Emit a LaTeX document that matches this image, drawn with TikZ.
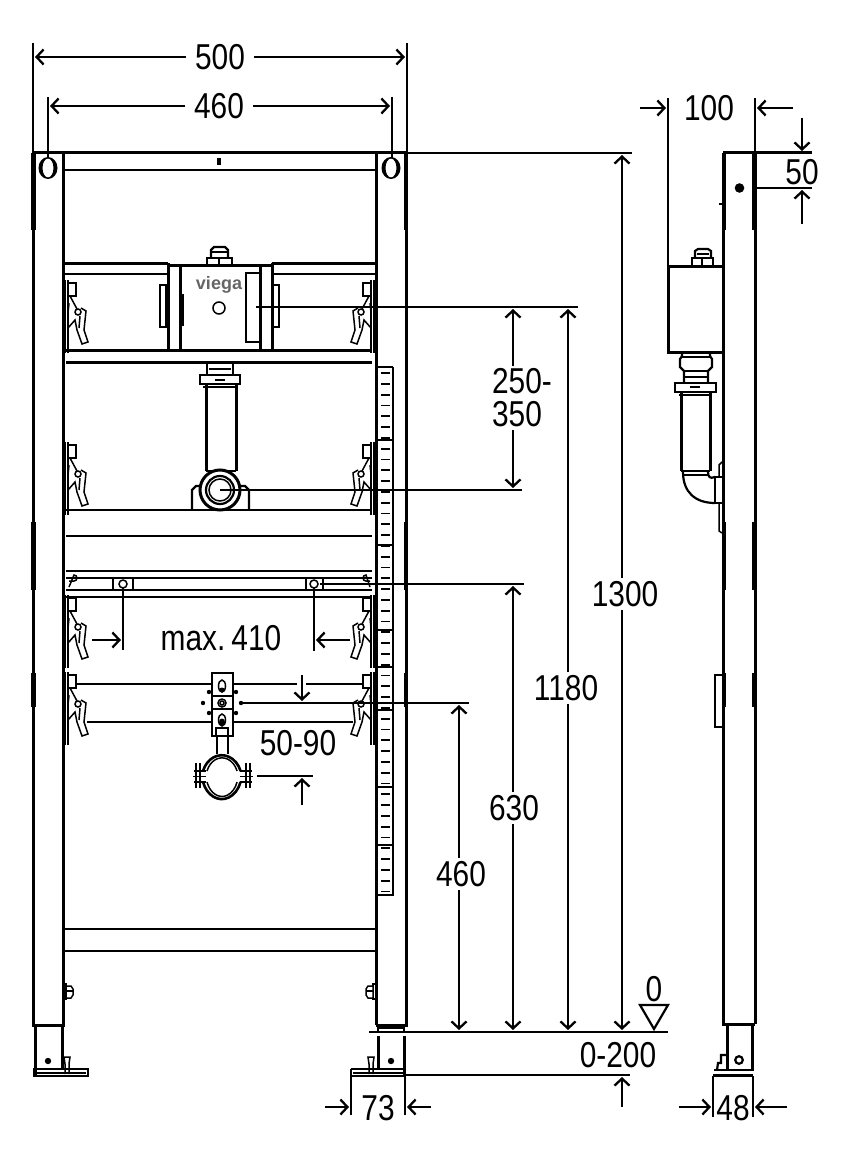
\documentclass[tikz,border=0pt]{standalone}
\usepackage{fontspec}
\usetikzlibrary{arrows.meta}
\setmainfont{Liberation Sans}
\newfontfamily\dimf[FakeStretch=0.83]{Liberation Sans}
\tikzset{
  heavy/.style={line width=3pt},
  med/.style={line width=2.2pt},
  thin2/.style={line width=1.5pt},
  dimline/.style={line width=2pt},
  arr/.style={dimline,-{Straight Barb[length=7pt,width=15pt,line width=2.3pt]}},
  lab/.style={font=\dimf\fontsize{36}{36}\selectfont,inner sep=3pt},
  labw/.style={lab,inner xsep=9pt},
  logo/.style={font=\bfseries\fontsize{18}{18}\selectfont,text=gray!80!black,inner sep=0pt}
}
\newcommand{\clampshape}{%
  \draw[med] (65,-3) -- (65,70) (68,-3) -- (68,70);
  \draw[med,fill=white] (68,0) rectangle (76,13);
  \draw[thin2] (70,13) -- (77,26);
  \draw[thin2] (69,20) -- (68,30);
  \draw[thin2] (81,25) -- (86,28) -- (84,47) -- (88,59) -- (82,61) -- (77,47) -- (75,37) -- (68,45);
  \draw[thin2] (80,33) -- (79,45);
  \draw[thin2,fill=white] (78,29) circle (3);
}
\begin{document}
\begin{tikzpicture}[x=1pt,y=-1pt]
\useasboundingbox (0,0) rectangle (849,1166);
% ---------- posts, front view
\draw[heavy] (33,153) -- (33,1025) -- (63,1025) -- (63,153);
\draw[heavy] (376,1025) -- (406,1025) -- (406,153);
\draw[heavy] (376,153) -- (376,1025);
\foreach \a/\b in {153/230,522/590,673/707}{
  \draw[line width=4.2pt] (33.5,\a) -- (33.5,\b) (406,\a) -- (406,\b);
}
\draw[heavy] (33,153) -- (406,153);
\draw[med] (63,170) -- (376,170);
\draw[line width=3.5pt] (219,158) -- (219,165);
\fill[even odd rule] (48,168) ellipse (9.5 and 11) (48,168) ellipse (5.5 and 9.5);
\fill[even odd rule] (391,168) ellipse (9.5 and 11) (391,168) ellipse (5.5 and 9.5);
% bottom beam
\draw[med] (63,929) -- (376,929) (63,951) -- (376,951);
% upper cross bar
\draw[heavy] (63,263) -- (168,263) (272,263) -- (376,263);
\draw[med] (63,274) -- (168,274) (272,274) -- (376,274);
\draw[heavy] (66,350) -- (372,350);
\draw[heavy] (66,362) -- (372,362);
\draw[heavy] (168,263) -- (168,350) (272,263) -- (272,350);
\draw[heavy] (180,265) -- (180,350) (260,265) -- (260,350);
\draw[heavy] (168,265) -- (272,265);
\draw[med] (246,273) rectangle (260,342);
\draw[med] (160,285) rectangle (166,327);
\draw[med] (273,285) rectangle (279,327);
\draw[thin2] (180,295) rectangle (183,325);
\node[logo] (viega) at (219,285) {viega};
\node[draw,circle,line width=1.5pt,minimum size=12pt,inner sep=0pt] (hole) at (219,308) {};
% valve on top
\draw[med] (207,265) -- (207,258) -- (232,258) -- (232,265);
\draw[med] (211,258) -- (211,250) -- (214,247) -- (225,247) -- (228,250) -- (228,258);
\draw[med] (212,252) -- (227,252);
\draw[med] (219,258) -- (219,265);
% drain pipe
\draw[med] (207,362) -- (207,375) (233,362) -- (233,375);
\draw[med] (209,369) -- (231,369);
\draw[med] (200,375) rectangle (240,384);
\draw[med] (215,380) -- (225,380);
\draw[med] (203,387) -- (237,387);
\draw[heavy] (206,384) -- (206,471) (236,384) -- (236,471);
\draw[med] (206,471) -- (236,471);
\draw[med] (192,510) -- (192,490) -- (196,486) -- (203,486);
\draw[med] (249,510) -- (249,490) -- (245,486) -- (237,486);
\draw[heavy,fill=white] (220,490) circle (20);
\draw[med] (220,490) circle (14);
\draw[thin2] (220,490) circle (11);
% second bar and third bar
\draw[med] (66,510) -- (372,510) (66,536) -- (372,536);
\draw[med] (66,571) -- (372,571) (66,578) -- (372,578) (66,590) -- (372,590) (66,597) -- (372,597);
\draw[med] (113,578) rectangle (133,590);
\draw[med] (306,578) rectangle (323,590);
\draw[thin2] (69,581) -- (74,581) arc (90:-90:3) -- (69,587);
\draw[thin2] (370,581) -- (366,581) arc (90:270:3) -- (370,587);
% ruler
\draw[med] (393,367) -- (393,895) -- (378,895);
\draw[med] (378,367) -- (393,367);
\foreach \i in {0,...,48}{
  \pgfmathsetmacro\yy{373+\i*10.8}
  \draw[line width=1.8pt] (381,\yy) -- (390,\yy);
}
\foreach \yy in {440,545,630,667,710,787,845}{ \draw[thin2] (378,\yy) -- (393,\yy); }
% clamps
\foreach \yy in {283,445,598,675}{
  \begin{scope}[shift={(0,\yy)}] \clampshape \end{scope}
  \begin{scope}[shift={(439,\yy)},xscale=-1] \clampshape \end{scope}
}
% lower mount
\draw[med] (77,684) -- (212,684) (233,684) -- (297,684) (306,684) -- (363,684);
\draw[med] (87,722) -- (212,722) (233,722) -- (353,722);
\draw[med,fill=white] (212,673) rectangle (233,736);
\draw[thin2] (222,686) ellipse (3.5 and 6);
\fill (222,690) ellipse (3 and 2.5);
\draw[thin2] (222,720) ellipse (3.5 and 6);
\fill (222,722) ellipse (3 and 3.5);
\draw[med] (212,696) rectangle (233,709);
\draw[thin2] (222,703) circle (4);
\draw[thin2] (222,703) circle (2);
\foreach \p in {(203,703),(241,703),(209,692),(236,692),(209,713),(236,713)}{ \fill \p circle (2.2); }
\draw[thin2] (216,736) -- (216,728) -- (228,728) -- (228,736);
\draw[med] (217,736) -- (217,754) (228,736) -- (228,754);
% pipe clip
\draw[line width=2.6pt] (203,771) arc (200:340:20 and 24);
\draw[line width=1.5pt] (207,771) arc (200:340:16 and 20);
\draw[line width=2.6pt] (203,782) arc (160:20:20 and 26);
\draw[line width=1.5pt] (207,782) arc (160:20:16 and 22);
\draw[thin2] (194,771) -- (206,771) (193,776.5) -- (206,776.5) (194,782) -- (206,782);
\draw[thin2] (240,771) -- (252,771) (240,776.5) -- (253,776.5) (240,782) -- (252,782);
\draw[thin2] (196,763) -- (196,788) (200,763) -- (200,788) (246,763) -- (246,788) (250,763) -- (250,788);
% feet, front view left
\draw[heavy] (35,1025) -- (35,1075);
\draw[heavy] (62,1025) -- (62,1069);
\draw[med] (34.5,1069) rectangle (88,1076);
\draw[thin2] (37,1073) -- (86,1073);
\fill (48,1061) circle (3.2);
\draw[thin2] (65,1074) -- (65,1064) -- (64,1057) -- (70,1057) -- (69,1064) -- (69,1074);
\draw[thin2] (63,984) rectangle (66,999);
\draw[thin2,fill=white] (66,986) -- (71,986) -- (73,989) -- (73,995) -- (71,998) -- (66,998) -- cycle;
\draw[thin2] (66,991) -- (73,991);
% feet, front view right
\draw[med] (378,1025) -- (378,1032) (404,1025) -- (404,1032);
\draw[med] (378,1028) -- (404,1028);
\draw[heavy] (378,1036) -- (378,1069);
\draw[heavy] (404,1036) -- (404,1076);
\draw[med] (351,1069) -- (405,1069) (351,1076) -- (405,1076) (351,1069) -- (351,1076);
\draw[thin2] (353,1073) -- (403,1073);
\fill (391,1061) circle (3.2);
\draw[thin2] (369,1074) -- (369,1064) -- (368,1057) -- (374,1057) -- (373,1064) -- (373,1074);
\draw[thin2] (373,984) rectangle (376,999);
\draw[thin2,fill=white] (373,986) -- (368,986) -- (366,989) -- (366,995) -- (368,998) -- (373,998) -- cycle;
\draw[thin2] (366,991) -- (373,991);
% ---------- side view
\draw[heavy] (723,153) -- (723,1024) -- (755,1024);
\draw[heavy] (755,153) -- (755,1024);
\draw[heavy] (723,153) -- (812,153);
\foreach \a/\b in {153/230,522/590,673/707}{
  \draw[line width=4.2pt] (724,\a) -- (724,\b) (754.5,\a) -- (754.5,\b);
}
\draw[med] (719,204) -- (723,204);
\fill (739.5,188) circle (4.8);
\draw[heavy] (668,266) rectangle (723,352);
\draw[med] (692,266) -- (692,258) -- (713,258) -- (713,266);
\draw[med] (695,258) -- (695,251) -- (698,249) -- (708,249) -- (711,251) -- (711,258);
\draw[med] (697,254) -- (709,254) (702,258) -- (702,266);
\draw[med] (682,352) -- (682,356) -- (680,359) -- (680,367) -- (684,371) -- (684,383);
\draw[med] (710,352) -- (710,356) -- (712,359) -- (712,367) -- (708,371) -- (708,383);
\draw[med] (682,357) -- (710,357) (684,371) -- (708,371) (684,377) -- (708,377);
\draw[med] (675,383) rectangle (716,392);
\draw[med] (690,387) -- (700,387);
\draw[med] (679,395) -- (712,395);
\draw[heavy] (681,392) -- (681,471) (710,392) -- (710,471);
\draw[med] (681,471) -- (710,471);
\draw[med] (682,475) -- (708,475);
\draw[med] (683,472) .. controls (683,492) and (695,503) .. (715,503);
\draw[med] (708,472) .. controls (708,477) and (710,479) .. (715,477);
\draw[med] (715,477) rectangle (723,503);
\draw[thin2] (719,477) -- (719,465) -- (722,462);
\draw[thin2] (719,503) -- (719,531) -- (722,533);
\draw[med] (715,675) rectangle (723,727);
% side foot
\draw[heavy] (727,1024) -- (727,1071) (752,1024) -- (752,1071);
\draw[med] (714,1070) -- (753,1070);
\draw[heavy] (713,1075) -- (753,1075);
\draw[med] (717,1070) -- (718,1063) -- (721,1063) -- (721,1055) -- (727,1055);
\draw[thin2,line width=2.2pt] (739,1060) circle (3.8);
% ---------- dimensions: extension lines
\coordinate (e500l) at (33,43); \coordinate (e500lb) at (33,153);
\coordinate (e500r) at (407,43); \coordinate (e500rb) at (407,153);
\coordinate (e460l) at (48,97); \coordinate (e460lb) at (48,158);
\coordinate (e460r) at (392,97); \coordinate (e460rb) at (392,158);
\draw[dimline] (e500l) -- (e500lb) (e500r) -- (e500rb) (e460l) -- (e460lb) (e460r) -- (e460rb);
\draw[dimline] (406,153) -- (632,153);
\draw[dimline] (256,307) -- (578,307);
\draw[dimline] (220,490) -- (522,490);
\draw[dimline] (320,584) -- (524,584);
\draw[dimline] (123,584) -- (123,650) (314,584) -- (314,651);
\fill[white] (123,584) circle (4); \fill[white] (314,584) circle (4);
\draw[thin2] (123,584) circle (4); \draw[thin2] (314,584) circle (4);
\draw[dimline] (240,703) -- (469,703);
\draw[dimline] (257,776) -- (313,776);
\draw[dimline] (369,1032) -- (668,1032);
\draw[dimline] (405,1075) -- (630,1075);
\draw[dimline] (351,1076) -- (351,1115) (405,1076) -- (405,1115);
\draw[dimline] (668,98) -- (668,266) (755,98) -- (755,153);
\draw[dimline] (755,188) -- (812,188);
\draw[dimline] (713,1076) -- (713,1117) (753,1076) -- (753,1117);
% labels and arrows
\node[labw] (t500) at (220,57) {500};
\coordinate (a500l) at (35,57); \coordinate (a500r) at (405,57);
\draw[arr] (t500) -- (a500l); \draw[arr] (t500) -- (a500r);
\node[labw] (t460a) at (219,106) {460};
\coordinate (a460l) at (50,106); \coordinate (a460r) at (390,106);
\draw[arr] (t460a) -- (a460l); \draw[arr] (t460a) -- (a460r);
\node[lab] (t1300) at (625,594) {1300};
\coordinate (a1300t) at (622,155); \coordinate (a1300b) at (622,1030);
\draw[arr] (t1300.north -| a1300t) -- (a1300t); \draw[arr] (t1300.south -| a1300t) -- (a1300b);
\node[lab] (t1180) at (566,688) {1180};
\coordinate (a1180t) at (568,309); \coordinate (a1180b) at (568,1030);
\draw[arr] (t1180.north -| a1180t) -- (a1180t); \draw[arr] (t1180.south -| a1180t) -- (a1180b);
\node[lab,align=left] (t250) at (522,398) {250-\\[-3pt]350};
\coordinate (a250t) at (513,309); \coordinate (a250b) at (513,488);
\draw[arr] (t250.north -| a250t) -- (a250t); \draw[arr] (t250.south -| a250t) -- (a250b);
\node[lab] (t630) at (514,808) {630};
\coordinate (a630t) at (513,586); \coordinate (a630b) at (513,1030);
\draw[arr] (t630.north -| a630t) -- (a630t); \draw[arr] (t630.south -| a630t) -- (a630b);
\node[lab] (t460b) at (461,874) {460};
\coordinate (a460t) at (459,705); \coordinate (a460bb) at (459,1030);
\draw[arr] (t460b.north -| a460t) -- (a460t); \draw[arr] (t460b.south -| a460t) -- (a460bb);
\node[lab] (tmax) at (221,638) {max.\,410};
\coordinate (amaxl) at (121,640); \coordinate (amaxlb) at (92,640);
\coordinate (amaxr) at (316,640); \coordinate (amaxrb) at (350,640);
\draw[arr] (amaxlb) -- (amaxl); \draw[arr] (amaxrb) -- (amaxr);
\node[lab] (t5090) at (298,743) {50-90};
\coordinate (a50s) at (302,675); \coordinate (a50e) at (302,701);
\coordinate (a90s) at (302,805); \coordinate (a90e) at (302,778);
\draw[arr] (a50s) -- (a50e); \draw[arr] (a90s) -- (a90e);
\node[lab] (tzero) at (654,989) {0};
\draw[med] (640,1005) -- (668,1005) -- (654,1029) -- cycle;
\node[lab] (t0200) at (618,1055) {0-200};
\coordinate (a02s) at (622,1107); \coordinate (a02e) at (622,1077);
\draw[arr] (a02s) -- (a02e);
\node[lab] (t73) at (378,1108) {73};
\coordinate (a73ls) at (325,1107); \coordinate (a73le) at (349,1107);
\coordinate (a73rs) at (431,1107); \coordinate (a73re) at (407,1107);
\draw[arr] (a73ls) -- (a73le); \draw[arr] (a73rs) -- (a73re);
\node[lab] (t100) at (709,108) {100};
\coordinate (a100ls) at (640,108); \coordinate (a100le) at (666,108);
\coordinate (a100rs) at (793,108); \coordinate (a100re) at (757,108);
\draw[arr] (a100ls) -- (a100le); \draw[arr] (a100rs) -- (a100re);
\node[lab] (t50) at (802,172) {50};
\coordinate (a50ts) at (802,118); \coordinate (a50te) at (802,151);
\coordinate (a50bs) at (802,224); \coordinate (a50be) at (802,190);
\draw[arr] (a50ts) -- (a50te); \draw[arr] (a50bs) -- (a50be);
\node[lab] (t48) at (733,1108) {48};
\coordinate (a48ls) at (679,1107); \coordinate (a48le) at (711,1107);
\coordinate (a48rs) at (787,1107); \coordinate (a48re) at (755,1107);
\draw[arr] (a48ls) -- (a48le); \draw[arr] (a48rs) -- (a48re);
\end{tikzpicture}
\end{document}
